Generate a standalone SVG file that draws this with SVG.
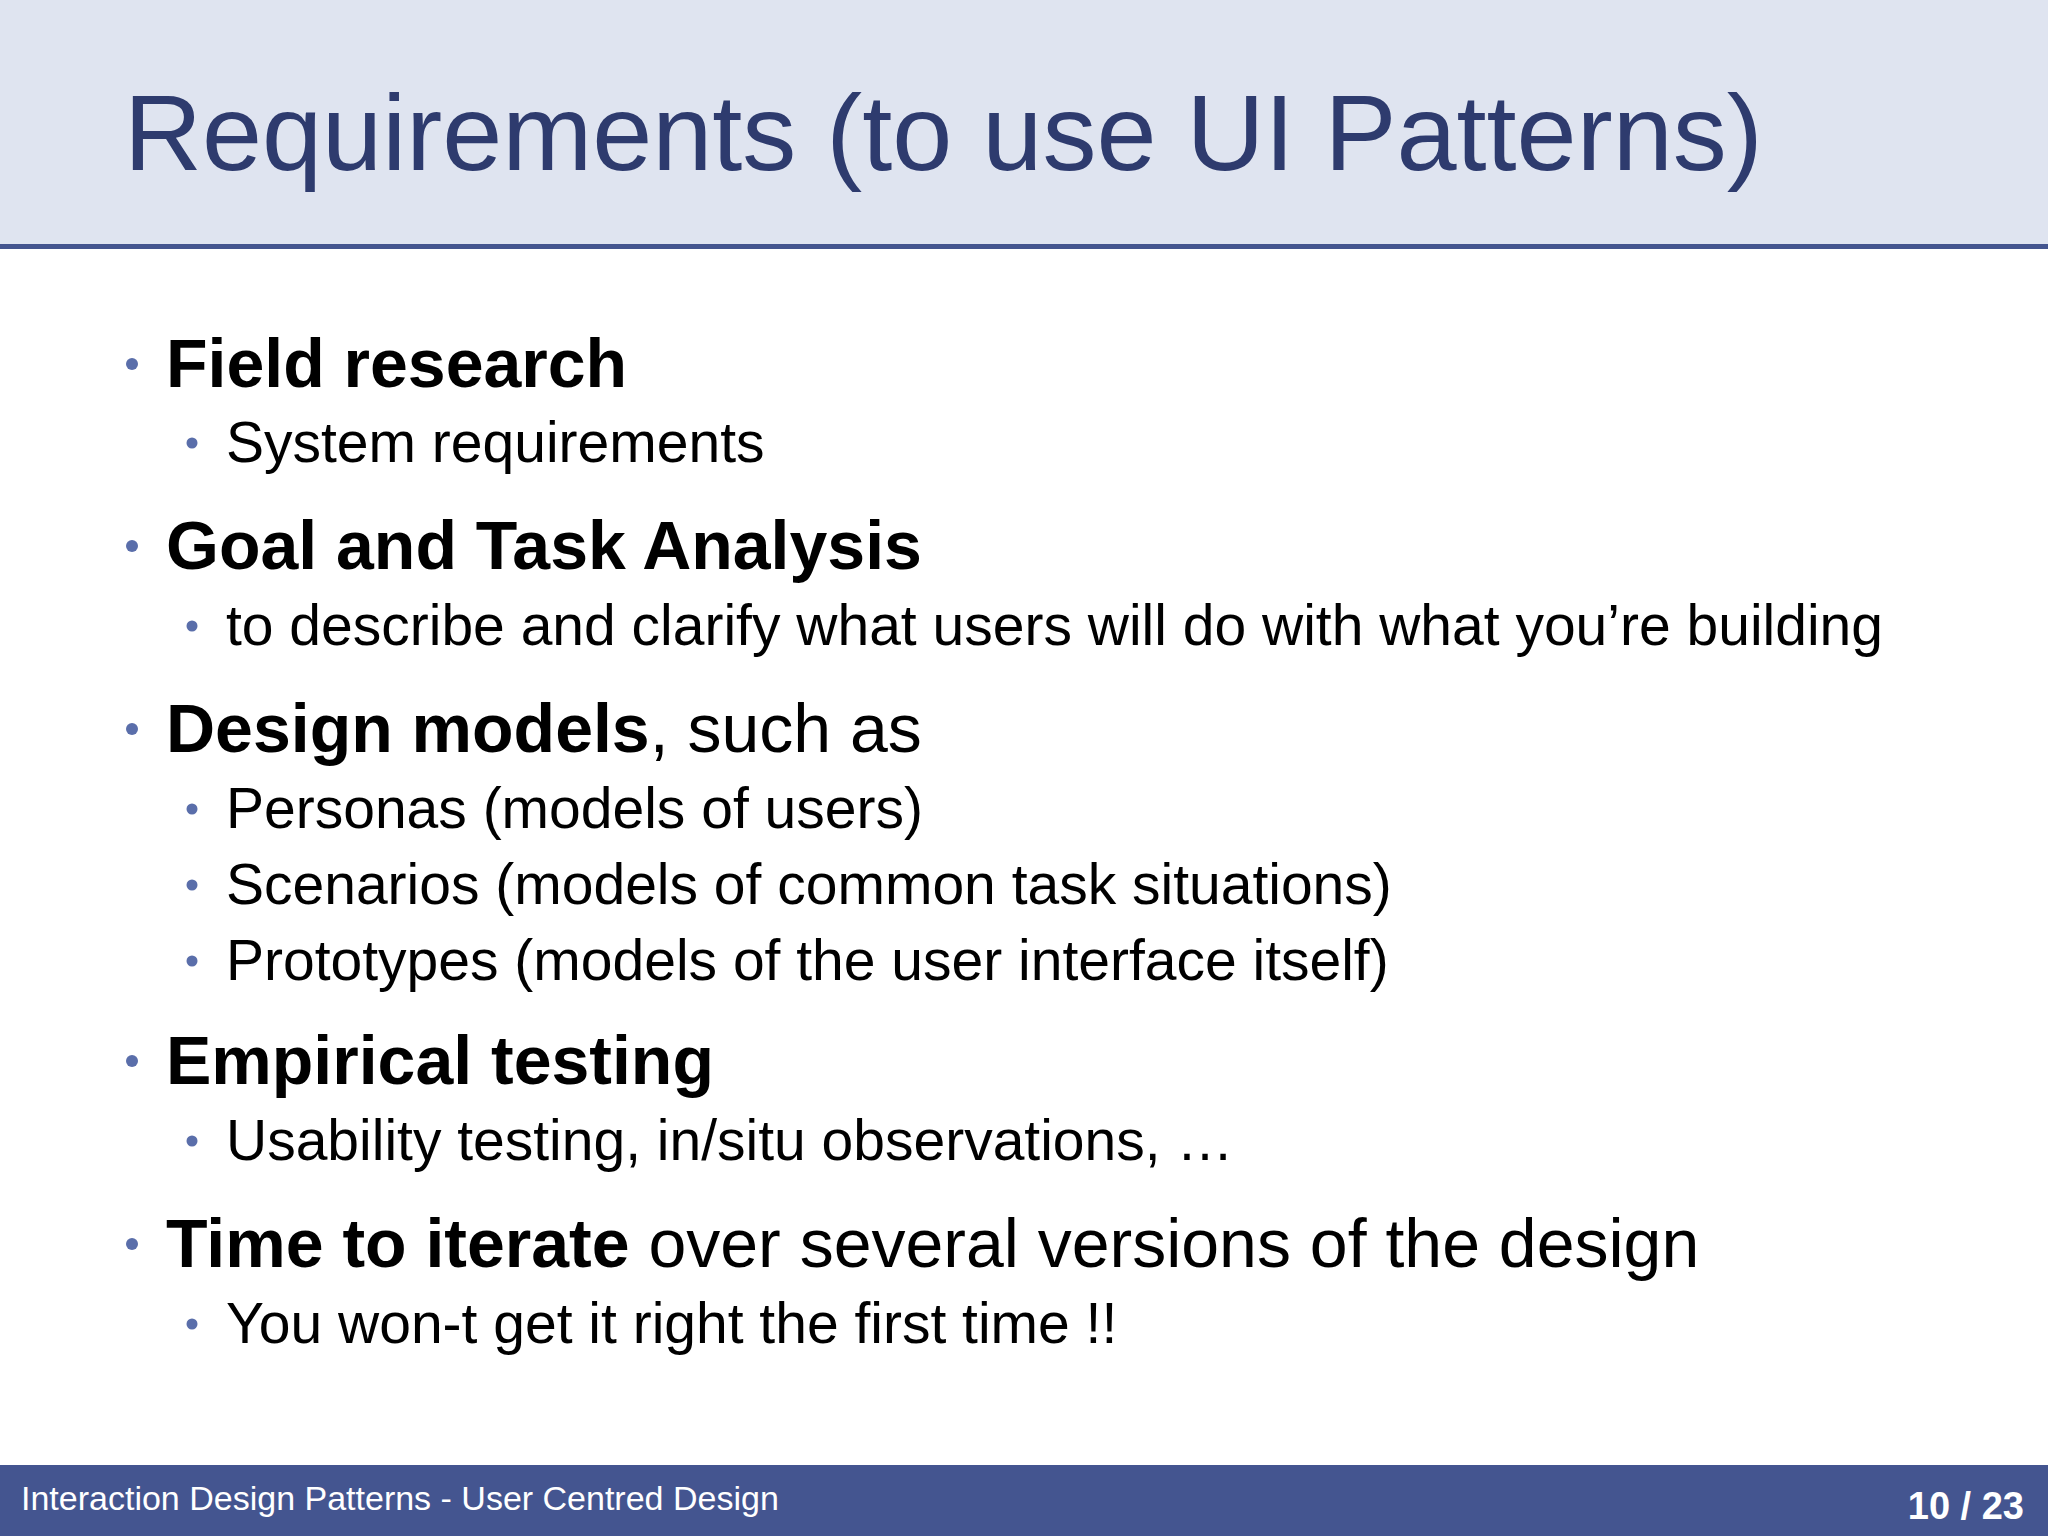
<svg xmlns="http://www.w3.org/2000/svg" width="2048" height="1536" viewBox="0 0 2048 1536">
<style>
text{font-family:"Liberation Sans",Arial,sans-serif;fill:#000}
.l1{font-size:68px;font-weight:bold}
.n{font-weight:normal}
.l2{font-size:57px}
.d{fill:#5a6eaa}
</style>
<rect width="2048" height="1536" fill="#fff"/>
<g id="header">
<rect x="0" y="0" width="2048" height="246" fill="#dfe4f0"/>
<rect x="0" y="244" width="2048" height="5" fill="#44558f"/>
<text x="124" y="170" style="font-size:108px;fill:#2e3b6e">Requirements (to use UI Patterns)</text>
</g>
<g id="body">
<circle class="d" cx="132" cy="364" r="6"/><text class="l1" x="166" y="387">Field research</text>
<circle class="d" cx="192" cy="443" r="5.5"/><text class="l2" x="226" y="462">System requirements</text>
<circle class="d" cx="132" cy="546" r="6"/><text class="l1" x="166" y="569">Goal and Task Analysis</text>
<circle class="d" cx="192" cy="626" r="5.5"/><text class="l2" x="226" y="645">to describe and clarify what users will do with what you’re building</text>
<circle class="d" cx="132" cy="729" r="6"/><text class="l1" x="166" y="752">Design models<tspan class="n">, such as</tspan></text>
<circle class="d" cx="192" cy="809" r="5.5"/><text class="l2" x="226" y="828">Personas (models of users)</text>
<circle class="d" cx="192" cy="885" r="5.5"/><text class="l2" x="226" y="904">Scenarios (models of common task situations)</text>
<circle class="d" cx="192" cy="961" r="5.5"/><text class="l2" x="226" y="980">Prototypes (models of the user interface itself)</text>
<circle class="d" cx="132" cy="1061" r="6"/><text class="l1" x="166" y="1084">Empirical testing</text>
<circle class="d" cx="192" cy="1141" r="5.5"/><text class="l2" x="226" y="1160">Usability testing, in/situ observations, …</text>
<circle class="d" cx="132" cy="1244" r="6"/><text class="l1" x="166" y="1267">Time to iterate<tspan class="n"> over several versions of the design</tspan></text>
<circle class="d" cx="192" cy="1324" r="5.5"/><text class="l2" x="226" y="1343">You won-t get it right the first time !!</text>
</g>
<g id="footer">
<rect x="0" y="1465" width="2048" height="71" fill="#445590"/>
<text x="21" y="1510" style="font-size:34px;fill:#fff">Interaction Design Patterns - User Centred Design</text>
<text x="2024" y="1519" text-anchor="end" style="font-size:38px;font-weight:bold;fill:#fff">10 / 23</text>
</g>
</svg>
